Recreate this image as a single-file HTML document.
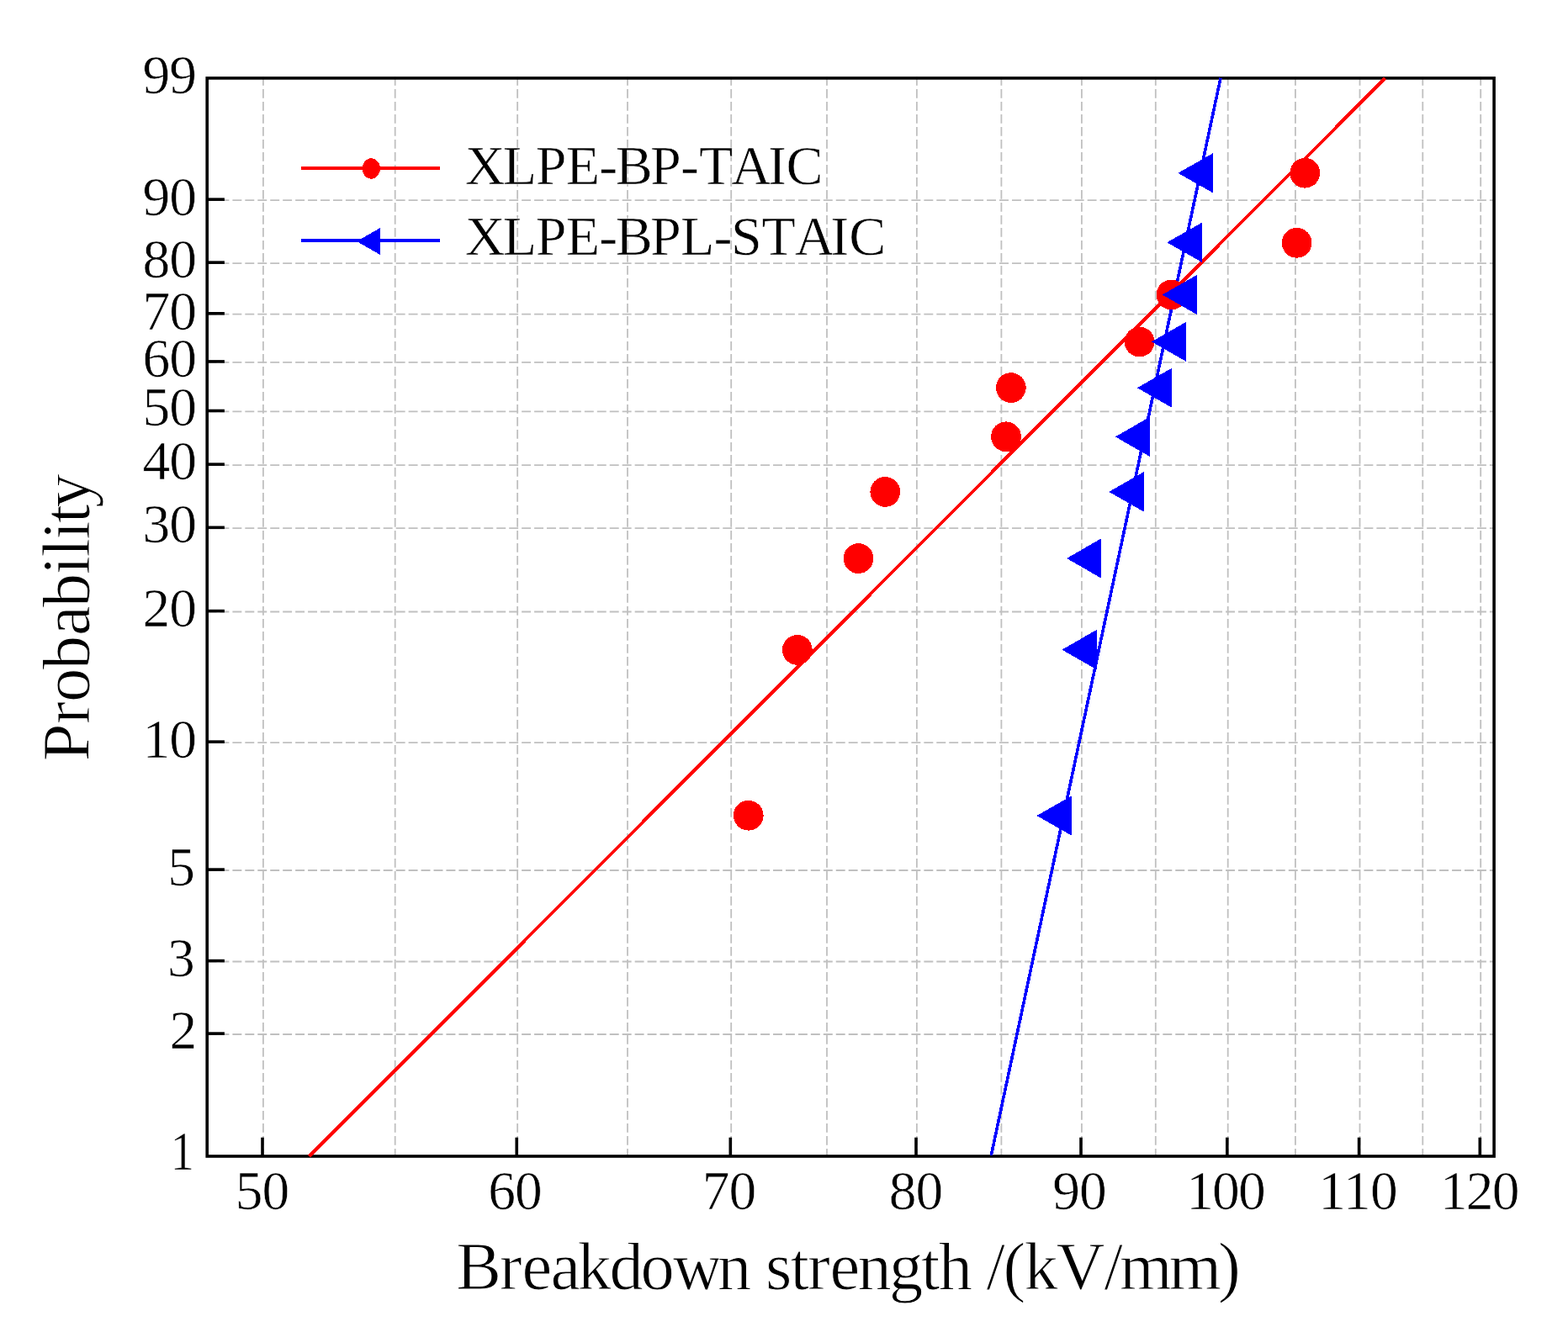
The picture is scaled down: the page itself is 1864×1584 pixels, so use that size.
<!DOCTYPE html><html><head><meta charset="utf-8"><title>Weibull plot</title><style>html,body{margin:0;padding:0;background:#fff;overflow:hidden;}svg{display:block;}text{font-family:"Liberation Serif","Times New Roman",serif;fill:#000;stroke:#fff;stroke-width:0.6px;}.ti{stroke-width:1px;}</style></head><body>
<svg width="1864" height="1584" viewBox="0 0 1864 1584">
<rect width="1864" height="1584" fill="#fff"/>
<g stroke="#c0c0c0" stroke-width="1.8" stroke-dasharray="10.7 4.3" fill="none"><line x1="312.90" y1="91" x2="312.90" y2="1375.00"/><line x1="469.70" y1="91" x2="469.70" y2="1375.00"/><line x1="615.15" y1="91" x2="615.15" y2="1375.00"/><line x1="746.00" y1="91" x2="746.00" y2="1375.00"/><line x1="869.20" y1="91" x2="869.20" y2="1375.00"/><line x1="983.00" y1="91" x2="983.00" y2="1375.00"/><line x1="1089.90" y1="91" x2="1089.90" y2="1375.00"/><line x1="1190.40" y1="91" x2="1190.40" y2="1375.00"/><line x1="1285.90" y1="91" x2="1285.90" y2="1375.00"/><line x1="1373.80" y1="91" x2="1373.80" y2="1375.00"/><line x1="1459.70" y1="91" x2="1459.70" y2="1375.00"/><line x1="1539.90" y1="91" x2="1539.90" y2="1375.00"/><line x1="1616.50" y1="91" x2="1616.50" y2="1375.00"/><line x1="1691.30" y1="91" x2="1691.30" y2="1375.00"/><line x1="1760.20" y1="91" x2="1760.20" y2="1375.00"/></g>
<g stroke="#c0c0c0" stroke-width="1.8" stroke-dasharray="10.95 3.995" fill="none"><line x1="246.5" y1="238.05" x2="1776.10" y2="238.05"/><line x1="246.5" y1="313.05" x2="1776.10" y2="313.05"/><line x1="246.5" y1="373.69" x2="1776.10" y2="373.69"/><line x1="246.5" y1="430.82" x2="1776.10" y2="430.82"/><line x1="246.5" y1="489.40" x2="1776.10" y2="489.40"/><line x1="246.5" y1="553.07" x2="1776.10" y2="553.07"/><line x1="246.5" y1="628.22" x2="1776.10" y2="628.22"/><line x1="246.5" y1="727.50" x2="1776.10" y2="727.50"/><line x1="246.5" y1="883.05" x2="1776.10" y2="883.05"/><line x1="246.5" y1="1035.00" x2="1776.10" y2="1035.00"/><line x1="246.5" y1="1143.50" x2="1776.10" y2="1143.50"/><line x1="246.5" y1="1230.00" x2="1776.10" y2="1230.00"/></g>
<rect x="246.20" y="92.90" width="1529.90" height="1282.10" fill="none" stroke="#000" stroke-width="3.6"/>
<g stroke="#000" stroke-width="3.6"><line x1="312.00" y1="1375.00" x2="312.00" y2="1352.7"/><line x1="614.25" y1="1375.00" x2="614.25" y2="1352.7"/><line x1="868.30" y1="1375.00" x2="868.30" y2="1352.7"/><line x1="1089.00" y1="1375.00" x2="1089.00" y2="1352.7"/><line x1="1285.00" y1="1375.00" x2="1285.00" y2="1352.7"/><line x1="1458.80" y1="1375.00" x2="1458.80" y2="1352.7"/><line x1="1615.60" y1="1375.00" x2="1615.60" y2="1352.7"/><line x1="1759.30" y1="1375.00" x2="1759.30" y2="1352.7"/><line x1="246.20" y1="237.15" x2="266.9" y2="237.15"/><line x1="246.20" y1="312.15" x2="266.9" y2="312.15"/><line x1="246.20" y1="372.79" x2="266.9" y2="372.79"/><line x1="246.20" y1="429.92" x2="266.9" y2="429.92"/><line x1="246.20" y1="488.50" x2="266.9" y2="488.50"/><line x1="246.20" y1="552.17" x2="266.9" y2="552.17"/><line x1="246.20" y1="627.32" x2="266.9" y2="627.32"/><line x1="246.20" y1="726.60" x2="266.9" y2="726.60"/><line x1="246.20" y1="882.15" x2="266.9" y2="882.15"/><line x1="246.20" y1="1034.10" x2="266.9" y2="1034.10"/><line x1="246.20" y1="1142.60" x2="266.9" y2="1142.60"/><line x1="246.20" y1="1229.10" x2="266.9" y2="1229.10"/></g>
<line x1="1178.3" y1="1374" x2="1451" y2="92.8" stroke="#00f" stroke-width="3.6" shape-rendering="crispEdges"/>
<line x1="367.8" y1="1375" x2="1646.5" y2="93.2" stroke="#f00" stroke-width="4" shape-rendering="crispEdges"/>
<circle cx="889.7" cy="969.7" r="17.9" fill="#f00" shape-rendering="crispEdges"/>
<circle cx="947.8" cy="772.9" r="17.9" fill="#f00" shape-rendering="crispEdges"/>
<circle cx="1020.5" cy="664.1" r="17.9" fill="#f00" shape-rendering="crispEdges"/>
<circle cx="1052.3" cy="584.9" r="17.9" fill="#f00" shape-rendering="crispEdges"/>
<circle cx="1196.0" cy="519.3" r="17.9" fill="#f00" shape-rendering="crispEdges"/>
<circle cx="1201.8" cy="461.1" r="17.9" fill="#f00" shape-rendering="crispEdges"/>
<circle cx="1354.6" cy="406.5" r="17.9" fill="#f00" shape-rendering="crispEdges"/>
<circle cx="1392.5" cy="350.5" r="17.9" fill="#f00" shape-rendering="crispEdges"/>
<circle cx="1541.6" cy="288.8" r="17.9" fill="#f00" shape-rendering="crispEdges"/>
<circle cx="1551.3" cy="205.7" r="17.9" fill="#f00" shape-rendering="crispEdges"/>
<polygon points="1232.4,970.0 1273.8,946.4 1273.8,993.6" fill="#00f" shape-rendering="crispEdges"/>
<polygon points="1262.4,772.6 1303.6,749.0 1303.6,796.2" fill="#00f" shape-rendering="crispEdges"/>
<polygon points="1268.1,664.0 1309.0,640.4 1309.0,687.6" fill="#00f" shape-rendering="crispEdges"/>
<polygon points="1318.3,584.9 1359.6,561.3 1359.6,608.5" fill="#00f" shape-rendering="crispEdges"/>
<polygon points="1325.9,519.4 1366.9,495.8 1366.9,543.0" fill="#00f" shape-rendering="crispEdges"/>
<polygon points="1351.8,461.2 1393.2,437.6 1393.2,484.8" fill="#00f" shape-rendering="crispEdges"/>
<polygon points="1368.9,406.3 1410.2,382.7 1410.2,429.9" fill="#00f" shape-rendering="crispEdges"/>
<polygon points="1381.7,350.5 1423.0,326.9 1423.0,374.1" fill="#00f" shape-rendering="crispEdges"/>
<polygon points="1387.3,288.3 1428.8,264.7 1428.8,311.9" fill="#00f" shape-rendering="crispEdges"/>
<polygon points="1400.4,205.8 1442.0,182.2 1442.0,229.4" fill="#00f" shape-rendering="crispEdges"/>
<text x="234.0" y="111.3" font-size="65.5" text-anchor="end" textLength="64.5" lengthAdjust="spacing">99</text>
<text x="234.0" y="255.8" font-size="65.5" text-anchor="end" textLength="64.5" lengthAdjust="spacing">90</text>
<text x="234.0" y="330.3" font-size="65.5" text-anchor="end" textLength="64.5" lengthAdjust="spacing">80</text>
<text x="234.0" y="392.2" font-size="65.5" text-anchor="end" textLength="64.5" lengthAdjust="spacing">70</text>
<text x="234.0" y="448.1" font-size="65.5" text-anchor="end" textLength="64.5" lengthAdjust="spacing">60</text>
<text x="234.0" y="506.4" font-size="65.5" text-anchor="end" textLength="64.5" lengthAdjust="spacing">50</text>
<text x="234.0" y="570.2" font-size="65.5" text-anchor="end" textLength="64.5" lengthAdjust="spacing">40</text>
<text x="234.0" y="645.1" font-size="65.5" text-anchor="end" textLength="64.5" lengthAdjust="spacing">30</text>
<text x="234.0" y="744.6" font-size="65.5" text-anchor="end" textLength="64.5" lengthAdjust="spacing">20</text>
<text x="234.0" y="900.5" font-size="65.5" text-anchor="end" textLength="64.5" lengthAdjust="spacing">10</text>
<text x="232.0" y="1052.5" font-size="65.5" text-anchor="end">5</text>
<text x="231.7" y="1161.1" font-size="65.5" text-anchor="end">3</text>
<text x="234.3" y="1247.0" font-size="65.5" text-anchor="end">2</text>
<text x="231.0" y="1391.2" font-size="65.5" text-anchor="end" textLength="28.2" lengthAdjust="spacingAndGlyphs">1</text>
<text x="311.9" y="1438.4" font-size="65.5" text-anchor="middle" textLength="64.5" lengthAdjust="spacing">50</text>
<text x="612.6" y="1438.4" font-size="65.5" text-anchor="middle" textLength="64.5" lengthAdjust="spacing">60</text>
<text x="866.9" y="1438.4" font-size="65.5" text-anchor="middle" textLength="64.5" lengthAdjust="spacing">70</text>
<text x="1088.9" y="1438.4" font-size="65.5" text-anchor="middle" textLength="64.5" lengthAdjust="spacing">80</text>
<text x="1283.4" y="1438.4" font-size="65.5" text-anchor="middle" textLength="64.5" lengthAdjust="spacing">90</text>
<text x="1457.4" y="1438.4" font-size="65.5" text-anchor="middle" textLength="94.5" lengthAdjust="spacing">100</text>
<text x="1614.5" y="1438.4" font-size="65.5" text-anchor="middle" textLength="94.5" lengthAdjust="spacing">110</text>
<text x="1759.2" y="1438.4" font-size="65.5" text-anchor="middle" textLength="94.5" lengthAdjust="spacing">120</text>
<text class="ti" x="542.3 593.8 620.6 654.4 686.6 724.5 761.5 799.9 852.9 893.1 910.0 939.5 959.9 986.6 1019.4 1057.0 1095.1 1115.7 1156.0 1172.5 1192.4 1217.5 1255.5 1312.4 1331.0 1389.4 1447.9" y="1532.5" font-size="80.5">Breakdown strength /(kV/mm)</text>
<text class="ti" transform="translate(106.2,904.5) rotate(-90)" x="-0.8 43.5 69.6 108.3 148.5 182.3 221.0 241.9 262.7 282.5 300.7" y="0" font-size="80.5">Probability</text>
<line x1="358.2" y1="199.8" x2="523" y2="199.8" stroke="#f00" stroke-width="3.6" shape-rendering="crispEdges"/>
<ellipse cx="441.3" cy="200.5" rx="10.6" ry="12.2" fill="#f00" shape-rendering="crispEdges"/>
<line x1="358.2" y1="286" x2="523" y2="286" stroke="#00f" stroke-width="3.6" shape-rendering="crispEdges"/>
<polygon points="423.9,287 452,271 452,303" fill="#00f" shape-rendering="crispEdges"/>
<text x="552.7 597.8 636.7 672.7 712.3 731.7 772.9 809.0 830.9 869.3 912.9 934.4" y="218.5" font-size="66">XLPE-BP-TAIC</text>
<text x="552.7 597.8 636.7 672.7 712.3 731.7 772.9 808.9 848.6 869.0 905.4 944.7 987.2 1009.2" y="303" font-size="66">XLPE-BPL-STAIC</text>
</svg></body></html>
